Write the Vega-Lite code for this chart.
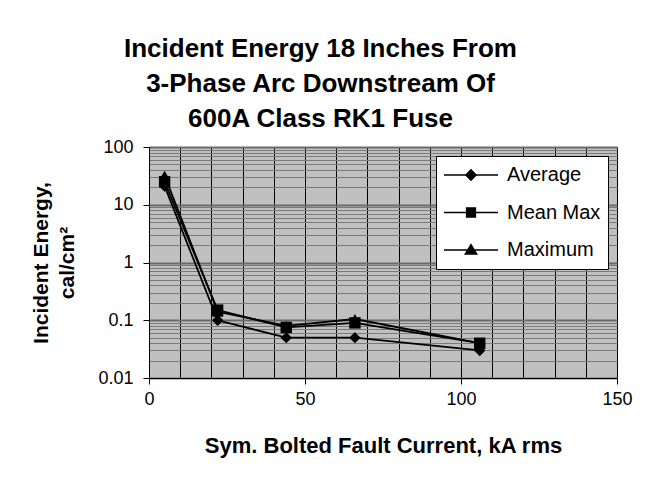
{
  "$schema": "https://vega.github.io/schema/vega-lite/v6.json",
  "width": 468,
  "height": 231,
  "autosize": "none",
  "padding": {"left": 149, "top": 147, "right": 28, "bottom": 103},
  "background": "white",
  "title": {
    "text": ["Incident Energy 18 Inches From", "3-Phase Arc Downstream Of", "600A Class RK1 Fuse"],
    "font": "Liberation Sans",
    "fontSize": 26,
    "fontWeight": "bold",
    "lineHeight": 35,
    "color": "black",
    "anchor": "middle",
    "frame": "bounds",
    "offset": 6,
    "dx": -11
  },
  "config": {
    "view": {"fill": "#c0c0c0", "stroke": "#808080", "strokeWidth": 1},
    "font": "Liberation Sans"
  },
  "data": {
    "values": [
      {"current": 5, "energy": 21, "series": "Average"},
      {"current": 22, "energy": 0.1, "series": "Average"},
      {"current": 44, "energy": 0.05, "series": "Average"},
      {"current": 66, "energy": 0.05, "series": "Average"},
      {"current": 106, "energy": 0.03, "series": "Average"},
      {"current": 5, "energy": 25, "series": "Mean Max"},
      {"current": 22, "energy": 0.15, "series": "Mean Max"},
      {"current": 44, "energy": 0.075, "series": "Mean Max"},
      {"current": 66, "energy": 0.09, "series": "Mean Max"},
      {"current": 106, "energy": 0.04, "series": "Mean Max"},
      {"current": 5, "energy": 32, "series": "Maximum"},
      {"current": 22, "energy": 0.14, "series": "Maximum"},
      {"current": 44, "energy": 0.08, "series": "Maximum"},
      {"current": 66, "energy": 0.105, "series": "Maximum"},
      {"current": 106, "energy": 0.04, "series": "Maximum"}
    ]
  },
  "encoding": {
    "x": {
      "field": "current",
      "type": "quantitative",
      "scale": {"domain": [0, 150], "nice": false, "zero": false},
      "axis": {
        "title": "Sym. Bolted Fault Current, kA rms",
        "values": [0, 10, 20, 30, 40, 50, 60, 70, 80, 90, 100, 110, 120, 130, 140, 150],
        "labelExpr": "datum.value % 50 === 0 ? datum.label : ''",
        "grid": true,
        "gridColor": "black",
        "gridWidth": 1,
        "gridOpacity": 1,
        "domainColor": "black",
        "domainWidth": 1,
        "tickColor": "black",
        "tickSize": 6,
        "tickOpacity": {"condition": {"test": "datum.value % 50 !== 0", "value": 0}, "value": 1},
        "labelFont": "Liberation Sans",
        "labelFontSize": 18,
        "labelColor": "black",
        "labelPadding": 6,
        "labelFlush": false,
        "labelOverlap": false,
        "titleFont": "Liberation Sans",
        "titleFontSize": 22,
        "titleFontWeight": "bold",
        "titleColor": "black",
        "titlePadding": 27
      }
    },
    "y": {
      "field": "energy",
      "type": "quantitative",
      "scale": {"type": "log", "domain": [0.01, 100], "nice": false},
      "axis": {
        "title": ["Incident Energy,", "cal/cm²"],
        "values": [0.01, 0.02, 0.03, 0.04, 0.05, 0.06, 0.07, 0.08, 0.09, 0.1, 0.2, 0.3, 0.4, 0.5, 0.6, 0.7, 0.8, 0.9, 1, 2, 3, 4, 5, 6, 7, 8, 9, 10, 20, 30, 40, 50, 60, 70, 80, 90, 100],
        "format": "~g",
        "labelExpr": "indexof([0.01, 0.1, 1, 10, 100], datum.value) >= 0 ? datum.label : ''",
        "grid": true,
        "gridColor": {"condition": {"test": "indexof([0.01, 0.1, 1, 10, 100], datum.value) >= 0", "value": "#6a6a6a"}, "value": "#7a7a7a"},
        "gridWidth": {"condition": {"test": "indexof([0.01, 0.1, 1, 10, 100], datum.value) >= 0", "value": 2}, "value": 1},
        "gridOpacity": 1,
        "domainColor": "black",
        "domainWidth": 1,
        "tickColor": "black",
        "tickSize": 6,
        "tickOpacity": {"condition": {"test": "indexof([0.01, 0.1, 1, 10, 100], datum.value) < 0", "value": 0}, "value": 1},
        "labelFont": "Liberation Sans",
        "labelFontSize": 18,
        "labelColor": "black",
        "labelPadding": 10,
        "labelFlush": false,
        "labelOverlap": false,
        "titleFont": "Liberation Sans",
        "titleFontSize": 21,
        "titleFontWeight": "bold",
        "titleColor": "black",
        "titleLineHeight": 26,
        "titlePadding": 20
      }
    }
  },
  "layer": [
    {
      "mark": {"type": "line", "color": "black", "strokeWidth": 1.8},
      "encoding": {"detail": {"field": "series", "type": "nominal"}}
    },
    {
      "mark": {"type": "point", "filled": true, "color": "black", "opacity": 1, "size": 130},
      "encoding": {
        "shape": {
          "field": "series",
          "type": "nominal",
          "scale": {"domain": ["Average", "Mean Max", "Maximum"], "range": ["diamond", "square", "triangle-up"]},
          "legend": null
        }
      }
    },
    {
      "transform": [{"filter": "datum.current < 0"}],
      "mark": {"type": "point", "filled": true, "color": "black", "opacity": 1},
      "encoding": {
        "shape": {
          "field": "series",
          "type": "nominal",
          "scale": {
            "domain": ["Average", "Mean Max", "Maximum"],
            "range": [
              "M-1,-0.03L1,-0.03L1,0.03L-1,0.03ZM0,-0.23L0.23,0L0,0.23L-0.23,0Z",
              "M-1,-0.03L1,-0.03L1,0.03L-1,0.03ZM-0.19,-0.19L0.19,-0.19L0.19,0.19L-0.19,0.19Z",
              "M-1,-0.03L1,-0.03L1,0.03L-1,0.03ZM0,-0.25L0.26,0.18L-0.26,0.18Z"
            ]
          },
          "legend": {
            "title": null,
            "orient": "top-right",
            "offset": 9,
            "fillColor": "white",
            "strokeColor": "black",
            "padding": 7,
            "symbolSize": 2916,
            "symbolFillColor": "black",
            "symbolOpacity": 1,
            "labelFont": "Liberation Sans",
            "labelFontSize": 20,
            "labelColor": "black",
            "labelOffset": 8,
            "clipHeight": 24,
            "rowPadding": 13.5
          }
        }
      }
    }
  ],
  "resolve": {"scale": {"shape": "independent"}, "legend": {"shape": "independent"}}
}
